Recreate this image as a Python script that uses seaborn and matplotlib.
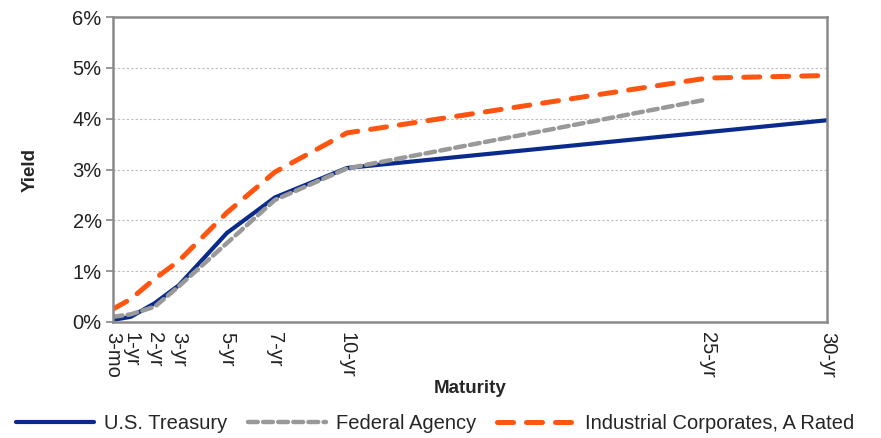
import matplotlib
matplotlib.use("Agg")
import matplotlib.pyplot as plt
import seaborn as sns
import pandas as pd
from matplotlib.ticker import FuncFormatter

# Maturities in years and their axis labels
tick_years = [0.25, 1, 2, 3, 5, 7, 10, 25, 30]
tick_labels = ["3-mo", "1-yr", "2-yr", "3-yr", "5-yr", "7-yr", "10-yr", "25-yr", "30-yr"]

# Yield curves (%)
treasury_years = [0.25, 1, 2, 3, 5, 7, 10, 30]
treasury_yield = [0.04, 0.10, 0.37, 0.72, 1.75, 2.45, 3.03, 3.97]

agency_years = [0.25, 1, 2, 3, 5, 7, 10, 25]
agency_yield = [0.10, 0.15, 0.30, 0.70, 1.55, 2.40, 3.02, 4.38]

corp_years = [0.25, 1, 2, 3, 5, 7, 10, 25, 30]
corp_yield = [0.25, 0.45, 0.85, 1.20, 2.15, 2.95, 3.72, 4.80, 4.85]

sns.set_theme(style="white")
plt.rcParams["font.family"] = ["Liberation Sans", "DejaVu Sans"]

fig, ax = plt.subplots(figsize=(8.81, 4.38), dpi=100)
fig.subplots_adjust(left=0.128, right=0.939, top=0.961, bottom=0.265)

series = [
    ("U.S. Treasury", treasury_years, treasury_yield, "#0a2b8c", (None, None), 3.0),
    ("Federal Agency", agency_years, agency_yield, "#999999", (2.2, 1.2), 3.2),
    ("Industrial Corporates, A Rated", corp_years, corp_yield, "#ff5511", (3.2, 2.6), 3.6),
]

for name, xs, ys, color, dash, lw in series:
    df = pd.DataFrame({"Maturity": xs, "Yield": ys})
    sns.lineplot(data=df, x="Maturity", y="Yield", ax=ax, color=color,
                 linewidth=lw, label=name, sort=False)
    ln = ax.get_lines()[-1]
    if dash != (None, None):
        ln.set_dashes(dash)
        ln.set_dash_capstyle("round")

ax.set_xlim(0.25, 30)
ax.set_ylim(0, 6)
ax.set_yticks(range(0, 7))
ax.yaxis.set_major_formatter(FuncFormatter(lambda v, p: f"{int(v)}%"))
ax.set_xticks(tick_years)
ax.set_xticklabels(tick_labels, rotation=-90, va="top", ha="center")
ax.tick_params(axis="both", labelsize=14.5, colors="#222222")
ax.tick_params(axis="y", length=5, width=1.2, color="#888888", left=True, pad=3)
ax.tick_params(axis="x", length=0, pad=7)

ax.grid(axis="y", color="#bbbbbb", linestyle=(0, (2, 2)), linewidth=0.8)
for sp in ax.spines.values():
    sp.set_color("#8a8a8a")
    sp.set_linewidth(1.8)

ax.set_xlabel("Maturity", fontsize=13.5, fontweight="bold", labelpad=2)
ax.set_ylabel("Yield", fontsize=13.5, fontweight="bold", labelpad=24)

handles, labels = ax.get_legend_handles_labels()
ax.get_legend().remove()
fig.legend(handles, labels, loc="center", bbox_to_anchor=(0.494, 0.032), ncol=3,
           frameon=False, fontsize=14.5, handlelength=3.9, columnspacing=1.0,
           handletextpad=0.5, borderaxespad=0)

fig.savefig("out.png", dpi=100)
